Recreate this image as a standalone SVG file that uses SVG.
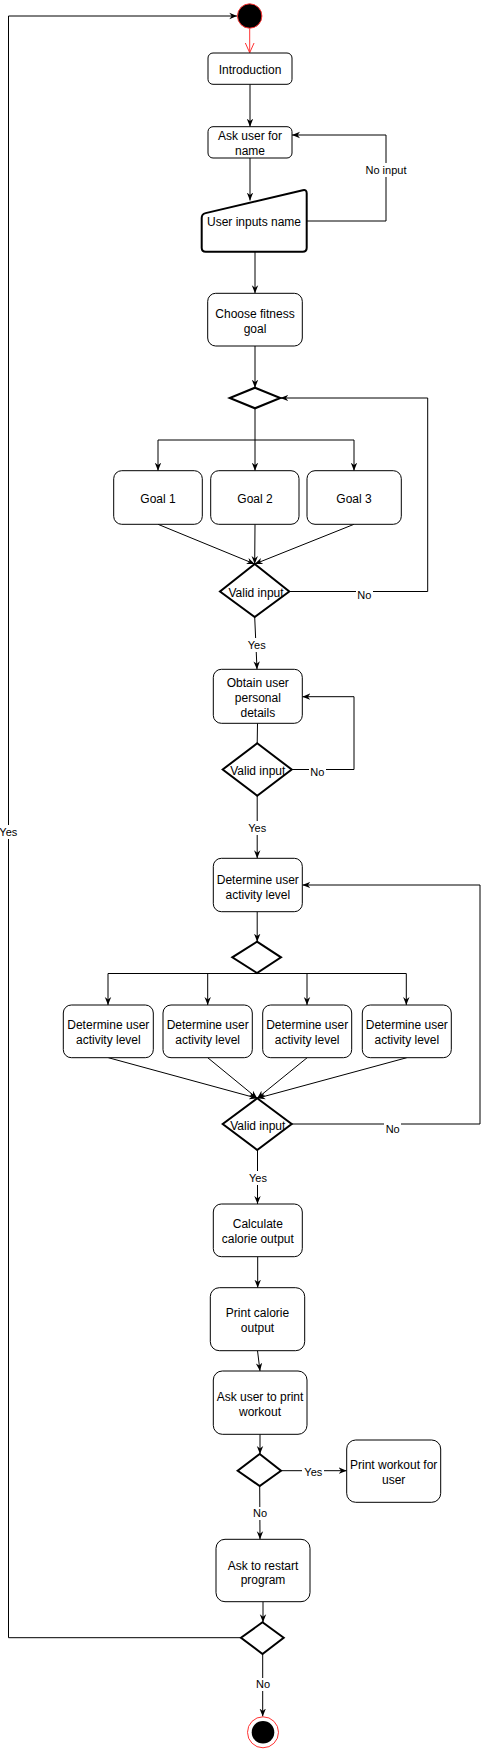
<svg xmlns="http://www.w3.org/2000/svg" width="490" height="1750" viewBox="0 0 490 1750">
<style>
.n{fill:#fff;stroke:#000;stroke-width:1}
.d{fill:#fff;stroke:#000;stroke-width:2;stroke-linejoin:miter}
.t{font-family:"Liberation Sans",Arial,Helvetica,sans-serif;font-size:12px;fill:#000;text-anchor:middle}
.l{font-family:"Liberation Sans",Arial,Helvetica,sans-serif;font-size:11px;fill:#000;text-anchor:middle}
.e{fill:none;stroke:#000;stroke-width:1}
.bg{fill:#fff}
</style>
<defs>
<marker id="a" viewBox="0 0 10 10" refX="10" refY="5" markerWidth="8" markerHeight="8" markerUnits="userSpaceOnUse" orient="auto">
<path d="M0,1 L10,5 L0,9 L3,5 Z" fill="#000"/>
</marker>
<marker id="r" viewBox="0 0 10 10" refX="10" refY="5" markerWidth="10" markerHeight="10" markerUnits="userSpaceOnUse" orient="auto">
<path d="M0,0.5 L10,5 L0,9.5" fill="none" stroke="#ff3333" stroke-width="1"/>
</marker>
</defs>

<g id="connectors">
<path class="e" d="M249.7,28.5 V52.7" stroke="#ff3333" style="stroke:#ff3333" marker-end="url(#r)"/>
<path class="e" d="M250,84.3 V126.7" marker-end="url(#a)"/>
<path class="e" d="M250,158 V200.5" marker-end="url(#a)"/>
<path class="e" d="M306.7,221 H386 V135 H292" marker-end="url(#a)"/>
<path class="e" d="M255,251.7 V293.3" marker-end="url(#a)"/>
<path class="e" d="M255,346 V387.7" marker-end="url(#a)"/>
<path class="e" d="M255,408.3 V440 H158 V470.7" marker-end="url(#a)"/>
<path class="e" d="M255,440 V470.7" marker-end="url(#a)"/>
<path class="e" d="M255,440 H354 V470.7" marker-end="url(#a)"/>
<path class="e" d="M158,524.3 L254.7,564" marker-end="url(#a)"/>
<path class="e" d="M255,524.3 L254.7,564" marker-end="url(#a)"/>
<path class="e" d="M354,524.3 L254.7,564" marker-end="url(#a)"/>
<path class="e" d="M289.3,591.5 H427.7 V398 H280.3" marker-end="url(#a)"/>
<path class="e" d="M254.7,617 L257,669.3" marker-end="url(#a)"/>
<path class="e" d="M257.5,723.3 L257.2,743.3"/>
<path class="e" d="M291.7,769.5 H354 V696.7 H302.3" marker-end="url(#a)"/>
<path class="e" d="M257.2,795.7 V858.3" marker-end="url(#a)"/>
<path class="e" d="M257.2,911.7 V941.7" marker-end="url(#a)"/>
<path class="e" d="M257,973.5 H108 V1005" marker-end="url(#a)"/>
<path class="e" d="M257,973.5 H207.7 V1005" marker-end="url(#a)"/>
<path class="e" d="M257,973.5 H307 V1005" marker-end="url(#a)"/>
<path class="e" d="M257,973.5 H406.3 V1005" marker-end="url(#a)"/>
<path class="e" d="M108.3,1057.7 L257.2,1098.3" marker-end="url(#a)"/>
<path class="e" d="M207.7,1057.7 L257.2,1098.3" marker-end="url(#a)"/>
<path class="e" d="M307.2,1057.7 L257.2,1098.3" marker-end="url(#a)"/>
<path class="e" d="M406.8,1057.7 L257.2,1098.3" marker-end="url(#a)"/>
<path class="e" d="M291.7,1124 H480 V885 H302.3" marker-end="url(#a)"/>
<path class="e" d="M257.5,1150 V1204" marker-end="url(#a)"/>
<path class="e" d="M257.7,1256.7 V1287.7" marker-end="url(#a)"/>
<path class="e" d="M257.5,1350.7 L260,1371" marker-end="url(#a)"/>
<path class="e" d="M260,1434.3 V1454" marker-end="url(#a)"/>
<path class="e" d="M281,1470.7 H346.7" marker-end="url(#a)"/>
<path class="e" d="M259.7,1486 L260,1539.3" marker-end="url(#a)"/>
<path class="e" d="M263,1601.7 V1622.3" marker-end="url(#a)"/>
<path class="e" d="M241,1637.7 H8.5 V16 H237.3" marker-end="url(#a)"/>
<path class="e" d="M262.7,1654 V1716.5" marker-end="url(#a)"/>
<g id="labels">
<rect class="bg" x="364" y="163" width="44" height="14"/>
<text class="l" x="386" y="174">No input</text>
<rect class="bg" x="356" y="589" width="17" height="13"/>
<text class="l" x="364.3" y="599">No</text>
<rect class="bg" x="246" y="638" width="22" height="14"/>
<text class="l" x="256.7" y="649">Yes</text>
<rect class="bg" x="309" y="765" width="17" height="13"/>
<text class="l" x="317.3" y="776">No</text>
<rect class="bg" x="246" y="821" width="22" height="14"/>
<text class="l" x="257.2" y="832">Yes</text>
<rect class="bg" x="0" y="825" width="19" height="14"/>
<text class="l" x="8.3" y="836">Yes</text>
<rect class="bg" x="384" y="1123" width="17" height="13"/>
<text class="l" x="392.7" y="1133">No</text>
<rect class="bg" x="247" y="1171" width="22" height="14"/>
<text class="l" x="258" y="1181.7">Yes</text>
<rect class="bg" x="302" y="1465" width="22" height="13"/>
<text class="l" x="313.3" y="1475.7">Yes</text>
<rect class="bg" x="251" y="1507" width="18" height="13"/>
<text class="l" x="260" y="1517.3">No</text>
<rect class="bg" x="254" y="1678" width="18" height="13"/>
<text class="l" x="263" y="1688.3">No</text>
</g>
</g>

<g id="start">
<circle cx="249.7" cy="16" r="12.2" fill="#000" stroke="#ff3333" stroke-width="1"/>
</g>
<g id="introduction">
<rect class="n" x="208" y="53" width="84" height="31.3" rx="5"/>
<text class="t" x="250" y="73.5">Introduction</text>
</g>
<g id="ask-name">
<rect class="n" x="208" y="126.7" width="84" height="31.3" rx="5"/>
<text class="t" x="250" y="140.3">Ask user for</text>
<text class="t" x="250" y="155">name</text>
</g>
<g id="user-inputs-name">
<path d="M201.7,218 Q201.7,214 205.6,213.1 L302.8,190.2 Q306.7,189.3 306.7,193.3 L306.7,247.7 Q306.7,251.7 302.7,251.7 L205.7,251.7 Q201.7,251.7 201.7,247.7 Z" fill="#fff" stroke="#000" stroke-width="2"/>
<text class="t" x="254" y="226">User inputs name</text>
</g>
<g id="choose-goal">
<rect class="n" x="207.7" y="293.3" width="94.6" height="52.7" rx="8"/>
<text class="t" x="255" y="318.3">Choose fitness</text>
<text class="t" x="255" y="333.3">goal</text>
</g>
<g id="goal-decision">
<polygon class="d" points="255,387.7 280.3,398 255,408.3 229.7,398"/>
</g>
<g id="goal1">
<rect class="n" x="113.7" y="470.7" width="88.6" height="53.6" rx="8"/>
<text class="t" x="158" y="502.6">Goal 1</text>
</g>
<g id="goal2">
<rect class="n" x="210.7" y="470.7" width="88.3" height="53.6" rx="8"/>
<text class="t" x="255" y="502.6">Goal 2</text>
</g>
<g id="goal3">
<rect class="n" x="307" y="470.7" width="94.3" height="53.6" rx="8"/>
<text class="t" x="354" y="502.6">Goal 3</text>
</g>
<g id="valid1">
<polygon class="d" points="254.7,564 289.3,591.5 254.7,617 220,591.5"/>
<text class="t" x="256" y="597">Valid input</text>
</g>
<g id="obtain-details">
<rect class="n" x="213.3" y="669.3" width="89" height="54" rx="8"/>
<text class="t" x="257.8" y="687">Obtain user</text>
<text class="t" x="257.8" y="702.3">personal</text>
<text class="t" x="257.8" y="717">details</text>
</g>
<g id="valid2">
<polygon class="d" points="257.2,743.3 291.7,769.5 257.2,795.7 222.7,769.5"/>
<text class="t" x="257.8" y="775">Valid input</text>
</g>
<g id="determine-activity">
<rect class="n" x="213.3" y="858.3" width="89" height="53.4" rx="8"/>
<text class="t" x="257.8" y="883.6">Determine user</text>
<text class="t" x="257.8" y="898.6">activity level</text>
</g>
<g id="activity-decision">
<polygon class="d" points="257,941.7 281,957.3 257,973 232.3,957.3"/>
</g>
<g id="activity1">
<rect class="n" x="63.3" y="1005" width="90" height="52.7" rx="8"/>
<text class="t" x="108.3" y="1029.3">Determine user</text>
<text class="t" x="108.3" y="1044.3">activity level</text>
</g>
<g id="activity2">
<rect class="n" x="163" y="1005" width="89.3" height="52.7" rx="8"/>
<text class="t" x="207.7" y="1029.3">Determine user</text>
<text class="t" x="207.7" y="1044.3">activity level</text>
</g>
<g id="activity3">
<rect class="n" x="262.7" y="1005" width="89" height="52.7" rx="8"/>
<text class="t" x="307.2" y="1029.3">Determine user</text>
<text class="t" x="307.2" y="1044.3">activity level</text>
</g>
<g id="activity4">
<rect class="n" x="362.3" y="1005" width="89" height="52.7" rx="8"/>
<text class="t" x="406.8" y="1029.3">Determine user</text>
<text class="t" x="406.8" y="1044.3">activity level</text>
</g>
<g id="valid3">
<polygon class="d" points="257.2,1098.3 291.7,1124 257.2,1150 222.7,1124"/>
<text class="t" x="257.8" y="1130">Valid input</text>
</g>
<g id="calculate">
<rect class="n" x="213.3" y="1204" width="89" height="52.7" rx="8"/>
<text class="t" x="257.8" y="1227.6">Calculate</text>
<text class="t" x="257.8" y="1243">calorie output</text>
</g>
<g id="print-calorie">
<rect class="n" x="210.3" y="1287.7" width="94.4" height="63" rx="9"/>
<text class="t" x="257.5" y="1316.6">Print calorie</text>
<text class="t" x="257.5" y="1332">output</text>
</g>
<g id="ask-print">
<rect class="n" x="213.3" y="1371" width="93.7" height="63.3" rx="9"/>
<text class="t" x="260" y="1401">Ask user to print</text>
<text class="t" x="260" y="1416">workout</text>
</g>
<g id="print-decision">
<polygon class="d" points="259.7,1454 281,1470.7 259.7,1486 237.7,1470.7"/>
</g>
<g id="print-workout">
<rect class="n" x="346.7" y="1440" width="94" height="62.3" rx="9"/>
<text class="t" x="393.7" y="1469.3">Print workout for</text>
<text class="t" x="393.7" y="1484.3">user</text>
</g>
<g id="ask-restart">
<rect class="n" x="216" y="1539.3" width="94" height="62.4" rx="9"/>
<text class="t" x="263" y="1569.5">Ask to restart</text>
<text class="t" x="263" y="1584">program</text>
</g>
<g id="restart-decision">
<polygon class="d" points="262.5,1622.3 283.7,1637.7 262.5,1654 241,1637.7"/>
</g>
<g id="end">
<circle cx="263" cy="1732.3" r="15.5" fill="#fff" stroke="#ff3333" stroke-width="1"/>
<circle cx="263" cy="1732.3" r="11.3" fill="#000"/>
</g>
</svg>
